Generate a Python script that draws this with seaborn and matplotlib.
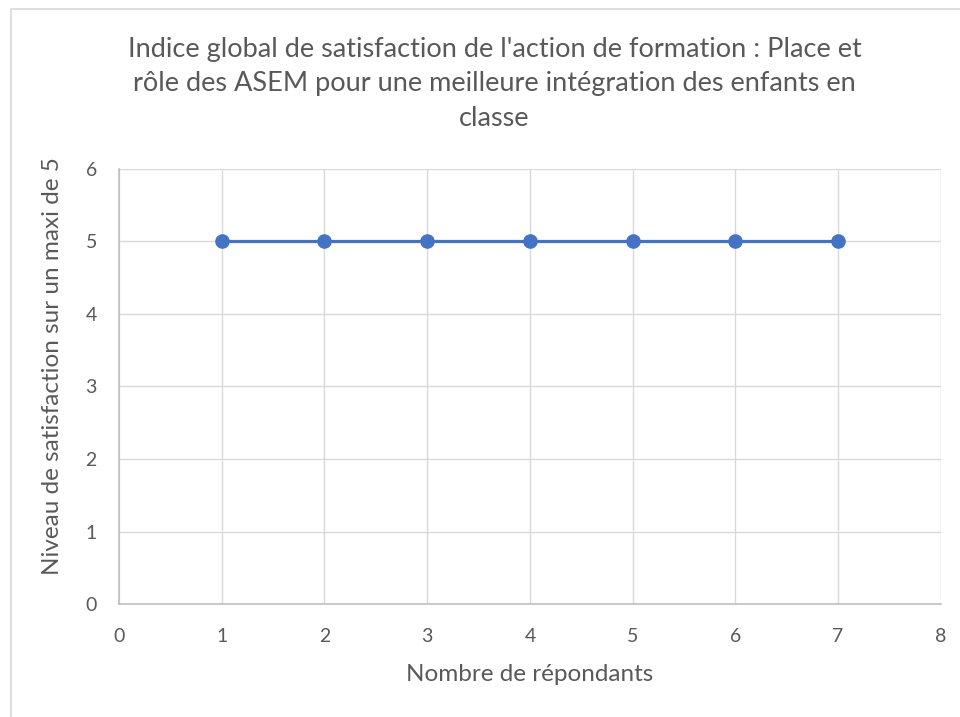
"""Excel-style satisfaction index line chart."""
import matplotlib
matplotlib.use("Agg")
import matplotlib.pyplot as plt
import matplotlib.patches as mpatches
import pandas as pd
import seaborn as sns

RESPONDENTS = [1, 2, 3, 4, 5, 6, 7]
SATISFACTION = [5, 5, 5, 5, 5, 5, 5]
X_TICKS = [0, 1, 2, 3, 4, 5, 6, 7, 8]
Y_TICKS = [0, 1, 2, 3, 4, 5, 6]

TITLE = ("Indice global de satisfaction de l'action de formation : Place et\n"
         "rôle des ASEM pour une meilleure intégration des enfants en\n"
         "classe")
BLUE = "#4472C4"
GRID = "#D9D9D9"
TEXT = "#595959"

sns.set_theme(style="white")
plt.rcParams["font.family"] = ["Lato", "DejaVu Sans"]

df = pd.DataFrame({"x": RESPONDENTS, "y": SATISFACTION})

fig = plt.figure(figsize=(9.6, 7.17), dpi=100)
ax = fig.add_axes([0.124, 0.1576, 0.856, 0.6067])

sns.lineplot(data=df, x="x", y="y", ax=ax, color=BLUE, linewidth=2.3,
             marker="o", markersize=10.5, markeredgewidth=0, zorder=3)

ax.set_xlim(0, 8)
ax.set_ylim(0, 6)
ax.set_xticks(X_TICKS)
ax.set_yticks(Y_TICKS)
ax.grid(True, color=GRID, linewidth=1)
ax.set_axisbelow(True)
for side in ["top", "right"]:
    ax.spines[side].set_visible(False)
for side in ["left", "bottom"]:
    ax.spines[side].set_color("#BFBFBF")
    ax.spines[side].set_linewidth(1.2)
ax.tick_params(axis="both", length=0, labelsize=14, labelcolor=TEXT)
ax.tick_params(axis="x", pad=17)
ax.tick_params(axis="y", pad=16)

ax.set_xlabel("Nombre de répondants", fontsize=17.5, color=TEXT)
ax.xaxis.set_label_coords(0.5, -0.163)
ax.xaxis.label.set_va("center")
ax.set_ylabel("Niveau de satisfaction sur un maxi de 5", fontsize=17.5,
              color=TEXT)
ax.yaxis.set_label_coords(-0.0815, 0.547)
ax.yaxis.label.set_va("center")

fig.suptitle(TITLE, x=0.515, y=1 - 84 / 717, va="center", ha="center",
             fontsize=19.5, color=TEXT, linespacing=1.5)

# light chart border like the Excel chart area
fig.patches.append(mpatches.Rectangle(
    (0.0115, -0.02), 1.2, 1.0074, transform=fig.transFigure,
    fill=False, edgecolor="#D9D9D9", linewidth=1.2))

fig.savefig("out.png", dpi=100)
